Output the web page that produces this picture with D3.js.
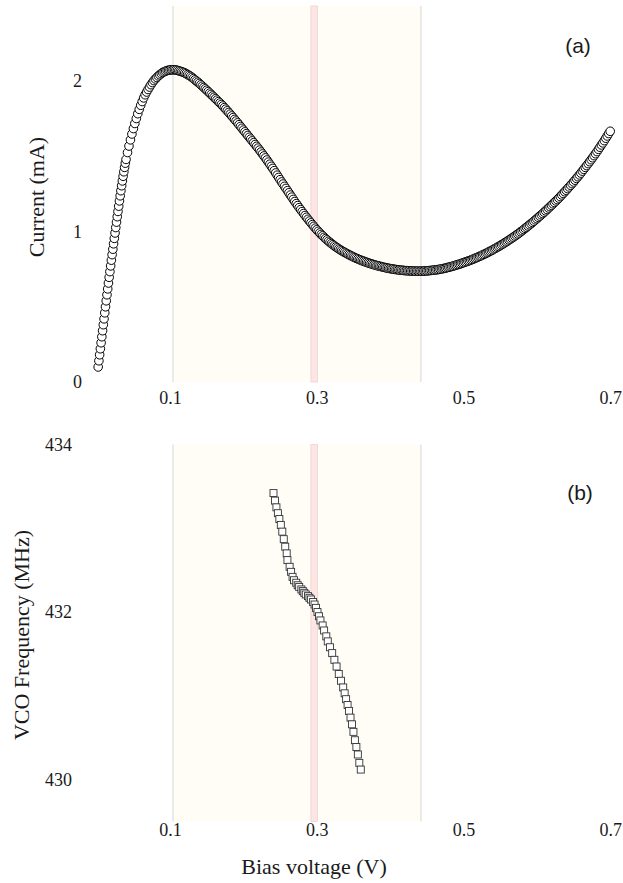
<!DOCTYPE html>
<html><head><meta charset="utf-8">
<script src="https://cdn.jsdelivr.net/npm/d3@7"></script>
<style>
html,body{margin:0;padding:0;background:#fff;}
svg{display:block;}
</style></head><body>
<svg id="chart" width="623" height="883"></svg>
<script>
// ---- Panel (a): I-V sweep (bias in mV, current in mA) ----
const biasMV = [
2,3,4,5,6,7,8,9,10,11,12,13,14,15,16,17,18,19,20,21,22,23,24,25,26,27,28,29,30,31,32,33,34,35,36,37,38,39,
40,42,44,46,48,50,52,54,56,58,
60,62,64,66,68,70,72,74,76,78,
80,82,84,86,88,90,92,94,96,98,
100,102,104,106,108,110,112,114,116,118,
120,122,124,126,128,130,132,134,136,138,
140,142,144,146,148,150,152,154,156,158,
160,162,164,166,168,170,172,174,176,178,
180,182,184,186,188,190,192,194,196,198,
200,202,204,206,208,210,212,214,216,218,
220,222,224,226,228,230,232,234,236,238,
240,242,244,246,248,250,252,254,256,258,
260,262,264,266,268,270,272,274,276,278,
280,282,284,286,288,290,292,294,296,298,
300,302,304,306,308,310,312,314,316,318,
320,322,324,326,328,330,332,334,336,338,
340,342,344,346,348,350,352,354,356,358,
360,362,364,366,368,370,372,374,376,378,
380,382,384,386,388,390,392,394,396,398,
400,402,404,406,408,410,412,414,416,418,
420,422,424,426,428,430,432,434,436,438,
440,442,444,446,448,450,452,454,456,458,
460,462,464,466,468,470,472,474,476,478,
480,482,484,486,488,490,492,494,496,498,
500,502,504,506,508,510,512,514,516,518,
520,522,524,526,528,530,532,534,536,538,
540,542,544,546,548,550,552,554,556,558,
560,562,564,566,568,570,572,574,576,578,
580,582,584,586,588,590,592,594,596,598,
600,602,604,606,608,610,612,614,616,618,
620,622,624,626,628,630,632,634,636,638,
640,642,644,646,648,650,652,654,656,658,
660,662,664,666,668,670,672,674,676,678,
680,682,684,686,688,690,692,694,696,698,
700];
const currentMA = [
0.100,0.141,0.181,0.221,0.261,0.301,0.341,0.381,0.420,0.460,0.500,0.540,0.580,0.619,0.658,0.696,0.734,0.772,0.810,0.847,0.883,0.919,0.955,0.991,1.027,1.063,1.099,1.134,1.169,1.204,1.238,1.272,1.305,1.337,1.368,1.398,1.427,1.455,
1.480,1.526,1.569,1.610,1.649,1.685,1.719,1.752,1.784,1.813,
1.840,1.865,1.889,1.910,1.928,1.945,1.961,1.977,1.991,2.004,
2.015,2.025,2.035,2.043,2.051,2.058,2.063,2.067,2.071,2.073,
2.075,2.076,2.076,2.076,2.074,2.072,2.069,2.066,2.063,2.059,
2.055,2.050,2.044,2.038,2.032,2.025,2.017,2.009,2.001,1.993,
1.985,1.976,1.967,1.958,1.949,1.940,1.931,1.921,1.912,1.902,
1.893,1.883,1.874,1.864,1.855,1.845,1.835,1.824,1.814,1.803,
1.792,1.781,1.769,1.758,1.746,1.735,1.723,1.711,1.699,1.687,
1.675,1.663,1.651,1.639,1.627,1.615,1.603,1.591,1.579,1.567,
1.555,1.542,1.529,1.516,1.503,1.490,1.476,1.462,1.448,1.434,
1.420,1.405,1.390,1.375,1.360,1.345,1.330,1.316,1.301,1.287,
1.272,1.258,1.243,1.229,1.214,1.200,1.186,1.173,1.159,1.146,
1.133,1.120,1.107,1.095,1.082,1.070,1.058,1.046,1.035,1.023,
1.012,1.002,0.991,0.981,0.972,0.962,0.953,0.945,0.936,0.928,
0.920,0.913,0.905,0.898,0.892,0.885,0.879,0.873,0.867,0.862,
0.856,0.851,0.846,0.841,0.836,0.831,0.827,0.822,0.818,0.814,
0.810,0.806,0.803,0.799,0.796,0.792,0.789,0.786,0.783,0.780,
0.777,0.774,0.772,0.769,0.767,0.764,0.762,0.760,0.758,0.756,
0.754,0.752,0.751,0.749,0.748,0.746,0.745,0.744,0.743,0.742,
0.741,0.740,0.740,0.739,0.738,0.738,0.738,0.737,0.737,0.737,
0.737,0.737,0.737,0.738,0.738,0.739,0.740,0.741,0.742,0.743,
0.744,0.745,0.747,0.748,0.750,0.752,0.754,0.756,0.758,0.761,
0.763,0.766,0.768,0.771,0.774,0.777,0.780,0.783,0.786,0.790,
0.793,0.797,0.800,0.804,0.807,0.811,0.815,0.819,0.823,0.827,
0.831,0.836,0.840,0.845,0.849,0.854,0.859,0.864,0.869,0.874,
0.879,0.885,0.890,0.896,0.901,0.907,0.913,0.919,0.925,0.931,
0.937,0.944,0.950,0.957,0.963,0.970,0.977,0.984,0.991,0.999,
1.006,1.014,1.022,1.029,1.037,1.045,1.053,1.061,1.069,1.078,
1.086,1.095,1.103,1.112,1.120,1.129,1.138,1.147,1.157,1.166,
1.175,1.185,1.194,1.204,1.213,1.223,1.233,1.244,1.254,1.265,
1.275,1.286,1.297,1.308,1.319,1.330,1.342,1.354,1.365,1.377,
1.389,1.402,1.414,1.427,1.439,1.452,1.465,1.478,1.491,1.505,
1.518,1.532,1.547,1.561,1.576,1.590,1.605,1.621,1.636,1.652,
1.667];

// ---- Panel (b): VCO frequency vs bias ----
const vcoBiasV = [0.241,0.243,0.245,0.247,0.249,0.251,0.253,0.255,0.257,0.259,
0.260,0.263,0.265,0.267,0.269,0.272,0.274,0.276,0.279,0.281,
0.283,0.285,0.288,0.290,0.292,0.295,0.297,0.299,0.301,0.303,
0.305,0.308,0.310,0.313,0.315,0.318,0.321,0.324,0.327,0.330,
0.333,0.336,0.338,0.340,0.342,0.344,0.346,0.348,0.350,0.352,
0.354,0.356,0.358,0.360];
const vcoFreqMHz = [433.42,433.33,433.25,433.18,433.11,433.04,432.96,432.87,432.78,432.70,
432.62,432.54,432.48,432.42,432.38,432.35,432.32,432.30,432.27,432.25,
432.23,432.21,432.19,432.17,432.15,432.12,432.09,432.05,432.00,431.95,
431.90,431.84,431.78,431.71,431.65,431.58,431.51,431.43,431.35,431.26,
431.18,431.10,431.03,430.96,430.89,430.82,430.74,430.66,430.57,430.47,
430.39,430.30,430.20,430.12];

// ---- Ticks, bands and labels ----
const xTicks = [0.1, 0.3, 0.5, 0.7];
const currentTicks = [0, 1, 2];
const freqTicks = [430, 432, 434];
const shadedBand = [0.104, 0.442];
const markerBand = [0.292, 0.301];
const panelLabels = ["(a)", "(b)"];
const xTitle = "Bias voltage (V)";
const yTitleA = "Current (mA)";
const yTitleB = "VCO Frequency (MHz)";

const SERIF = "'Liberation Serif','Times New Roman',serif";
const SANS = "'Liberation Sans',Arial,sans-serif";

const svg = d3.select("#chart");
const x = d3.scaleLinear().domain([0, 0.7]).range([96.7, 610.2]);
const yA = d3.scaleLinear().domain([0, 2.5]).range([382, 6]);
const yB = d3.scaleLinear().domain([429.5, 434]).range([821.5, 444.5]);

function drawBands(y) {
  const [yb, yt] = y.range();
  const g = svg.append("g");
  g.append("rect")
    .attr("x", x(shadedBand[0])).attr("width", x(shadedBand[1]) - x(shadedBand[0]))
    .attr("y", yt).attr("height", yb - yt)
    .attr("fill", "#fffdf6");
  g.append("rect")
    .attr("x", x(markerBand[0])).attr("width", x(markerBand[1]) - x(markerBand[0]))
    .attr("y", yt).attr("height", yb - yt)
    .attr("fill", "#fce5e2").attr("stroke", "#efd2d0").attr("stroke-width", 0.8);
  g.selectAll("line.edge").data(shadedBand).enter().append("line")
    .attr("class", "edge")
    .attr("x1", d => x(d)).attr("x2", d => x(d))
    .attr("y1", yt).attr("y2", yb)
    .attr("stroke", "#d6d6d6").attr("stroke-width", 1);
}

function styleAxis(g) {
  g.select(".domain").remove();
  g.selectAll(".tick line").remove();
  g.selectAll(".tick text")
    .attr("font-family", SERIF).attr("font-size", 18).attr("fill", "#1a1a1a");
}

// Panel (a)
drawBands(yA);
svg.append("g").attr("transform", "translate(0,388)")
  .call(d3.axisBottom(x).tickValues(xTicks).tickSize(0).tickPadding(3).tickFormat(d3.format(".1f")))
  .call(styleAxis);
svg.append("g").attr("transform", "translate(86,0)")
  .call(d3.axisLeft(yA).tickValues(currentTicks).tickSize(0).tickPadding(4).tickFormat(d3.format("d")))
  .call(styleAxis);

const ivData = biasMV.map((v, i) => ({v: v / 1000, c: currentMA[i]})).filter(d => d.c !== undefined);
svg.append("g").selectAll("circle").data(ivData).enter().append("circle")
  .attr("cx", d => x(d.v)).attr("cy", d => yA(d.c)).attr("r", 4.3)
  .attr("fill", "#fff").attr("stroke", "#000").attr("stroke-width", 1);

// Panel (b)
drawBands(yB);
svg.append("g").attr("transform", "translate(0,820)")
  .call(d3.axisBottom(x).tickValues(xTicks).tickSize(0).tickPadding(3).tickFormat(d3.format(".1f")))
  .call(styleAxis);
svg.append("g").attr("transform", "translate(76,0)")
  .call(d3.axisLeft(yB).tickValues(freqTicks).tickSize(0).tickPadding(4).tickFormat(d3.format("d")))
  .call(styleAxis);

const vcoData = vcoBiasV.map((v, i) => ({v, f: vcoFreqMHz[i]}));
const s = 7;
svg.append("g").selectAll("rect").data(vcoData).enter().append("rect")
  .attr("x", d => x(d.v) - s / 2).attr("y", d => yB(d.f) - s / 2)
  .attr("width", s).attr("height", s)
  .attr("fill", "#fff").attr("stroke", "#333").attr("stroke-width", 0.9);

// Titles
svg.append("text").attr("x", 314).attr("y", 874).attr("text-anchor", "middle")
  .attr("font-family", SERIF).attr("font-size", 22).attr("fill", "#1a1a1a").text(xTitle);
svg.append("text").attr("transform", "translate(44,197) rotate(-90)").attr("text-anchor", "middle")
  .attr("font-family", SERIF).attr("font-size", 22).attr("fill", "#1a1a1a").text(yTitleA);
svg.append("text").attr("transform", "translate(29,635) rotate(-90)").attr("text-anchor", "middle")
  .attr("font-family", SERIF).attr("font-size", 22).attr("fill", "#1a1a1a").text(yTitleB);

// Panel labels
svg.append("text").attr("x", 578).attr("y", 53).attr("text-anchor", "middle")
  .attr("font-family", SANS).attr("font-size", 21).attr("fill", "#1a1a1a").text(panelLabels[0]);
svg.append("text").attr("x", 580).attr("y", 500).attr("text-anchor", "middle")
  .attr("font-family", SANS).attr("font-size", 21).attr("fill", "#1a1a1a").text(panelLabels[1]);
</script>
</body></html>
